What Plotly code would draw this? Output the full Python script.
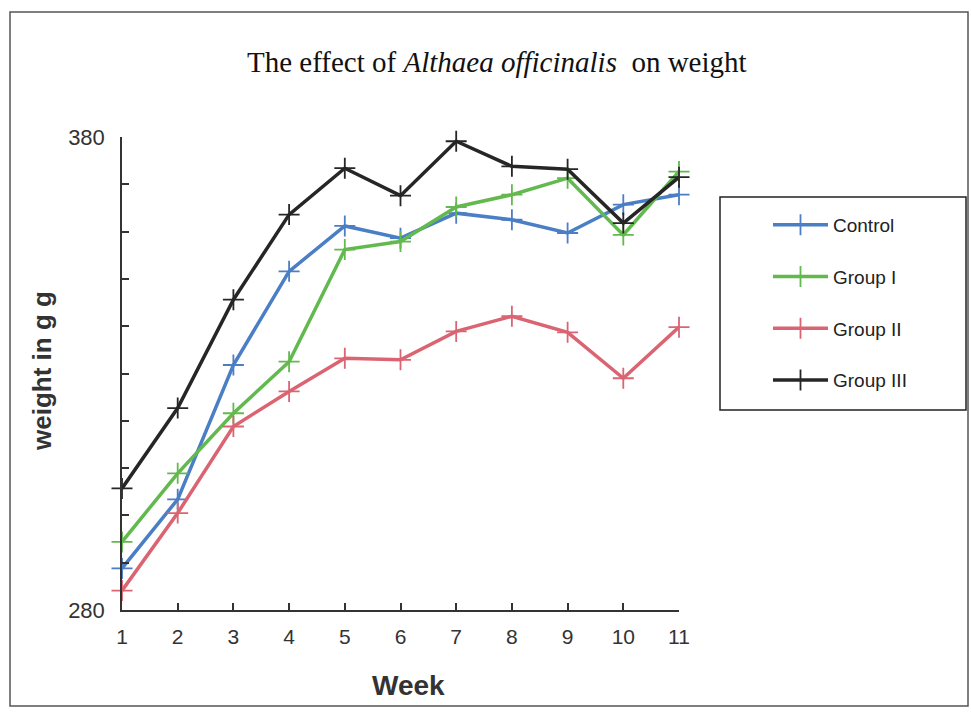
import plotly.graph_objects as go

weeks = [1, 2, 3, 4, 5, 6, 7, 8, 9, 10, 11]
control = [288.8, 303.4, 331.8, 351.6, 361.2, 358.6, 363.9, 362.5, 359.7, 365.7, 367.8]
group_1 = [294.4, 308.9, 321.6, 332.5, 356.2, 357.9, 365.2, 367.8, 371.3, 359.3, 372.7]
group_2 = [284.1, 300.5, 318.8, 326.2, 333.2, 332.9, 338.9, 342.1, 338.7, 329.0, 339.8]
group_3 = [305.7, 322.7, 345.6, 363.6, 373.4, 367.6, 379.1, 373.8, 373.2, 361.8, 371.5]

series_names = ["Control", "Group I", "Group II", "Group III"]
series_values = [control, group_1, group_2, group_3]
series_colors = ["#4A7EC5", "#62B94E", "#DB6473", "#262626"]

y_ticks = list(range(280, 381, 10))
y_ticktext = [str(v) if v in (280, 380) else "" for v in y_ticks]

fig = go.Figure()
for name, vals, col in zip(series_names, series_values, series_colors):
    fig.add_trace(go.Scatter(
        x=weeks, y=vals, name=name, mode="lines+markers",
        line=dict(color=col, width=3.5),
        marker=dict(symbol="cross-thin", size=15, line=dict(color=col, width=1.8)),
        legendgroup=name, cliponaxis=False,
    ))

W, H = 971, 714
L, R, T, B = 122, 292, 137, 104
PW, PH = W - L - R, H - T - B


def px(x):
    return (x - L) / PW


def py(y):
    return (H - B - y) / PH


fig.update_layout(
    width=W, height=H,
    margin=dict(l=L, r=R, t=T, b=B),
    paper_bgcolor="white", plot_bgcolor="white",
    font=dict(family="Liberation Sans, Arial, sans-serif", color="#222"),
    showlegend=True,
    legend=dict(
        x=px(768), xanchor="left",
        y=py(206), yanchor="top",
        bgcolor="rgba(0,0,0,0)", borderwidth=0,
        font=dict(size=19, color="#222"),
        tracegroupgap=24, itemwidth=55,
    ),
    shapes=[
        dict(type="rect", xref="paper", yref="paper",
             x0=px(10), x1=px(968), y0=py(706), y1=py(12),
             line=dict(color="#555", width=1.5)),
        dict(type="rect", xref="paper", yref="paper",
             x0=px(720), x1=px(966), y0=py(410), y1=py(197),
             line=dict(color="#222", width=1.5)),
    ],
    annotations=[
        dict(text="The effect of <i>Althaea officinalis</i>  on weight",
             xref="paper", yref="paper", x=px(497), y=py(62),
             showarrow=False, xanchor="center", yanchor="middle",
             font=dict(family="Liberation Serif, Times New Roman, serif", size=29, color="#111")),
        dict(text="<b>Week</b>", xref="paper", yref="paper", x=px(408), y=py(685),
             showarrow=False, xanchor="center", yanchor="middle",
             font=dict(size=28, color="#333")),
        dict(text="<b>weight in g g</b>", xref="paper", yref="paper", x=px(42), y=py(371),
             showarrow=False, xanchor="center", yanchor="middle", textangle=-90,
             font=dict(size=26, color="#333")),
    ],
)

fig.update_xaxes(
    range=[1, 11], tickvals=weeks, ticktext=[str(w) for w in weeks],
    showgrid=False, zeroline=False, showline=True, linecolor="#333", linewidth=1.5,
    ticks="inside", ticklen=7, tickwidth=1.5, tickcolor="#333",
    tickfont=dict(size=21, color="#333"), ticklabelstandoff=7,
)
fig.update_yaxes(
    range=[280, 380], tickvals=y_ticks, ticktext=y_ticktext,
    showgrid=False, zeroline=False, showline=True, linecolor="#333", linewidth=1.5,
    ticks="inside", ticklen=7, tickwidth=1.5, tickcolor="#333",
    tickfont=dict(size=22, color="#333"), ticklabelstandoff=11,
)

fig.write_html("out.html")
